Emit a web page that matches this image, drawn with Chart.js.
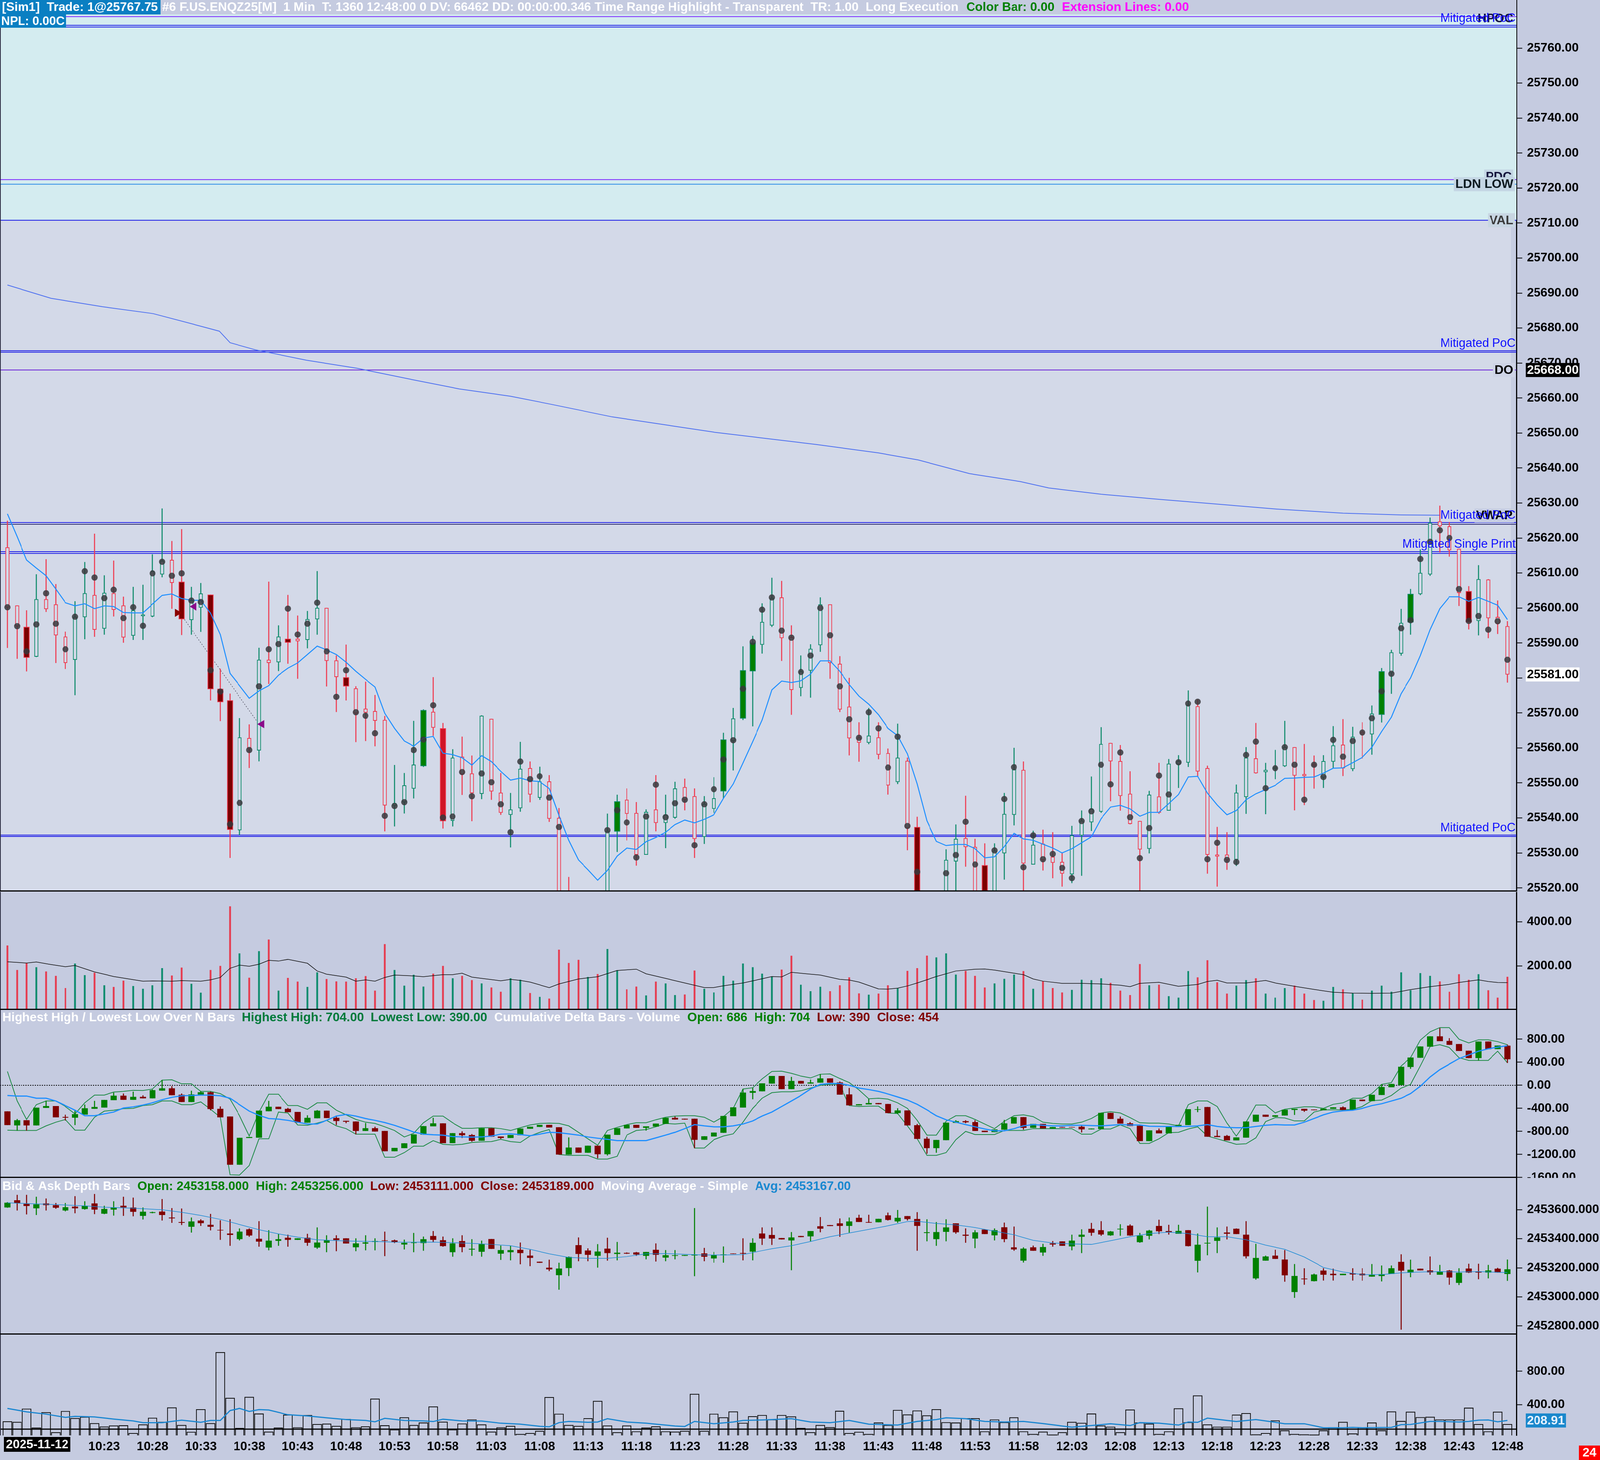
<!DOCTYPE html>
<html>
<head>
<meta charset="utf-8">
<title>F.US.ENQZ25 1 Min</title>
<script src="https://cdn.jsdelivr.net/npm/chart.js@4.4.1/dist/chart.umd.min.js"></script>
<style>
  html, body { margin: 0; padding: 0; background: #c5cbe0; }
  body { overflow: hidden; }
  #stage { position: absolute; left: 0; top: 0; width: 4133px; height: 3737px; transform-origin: 0 0; }
  #stage canvas { position: absolute; left: 0; }
</style>
</head>
<body>
<div id="stage">
<canvas id="mainChart" width="4133" height="2282" style="top:0;width:4133px;height:2282px"></canvas>
<canvas id="volChart" width="4133" height="302" style="top:2283px;width:4133px;height:302px"></canvas>
<canvas id="deltaChart" width="4133" height="430" style="top:2585px;width:4133px;height:430px"></canvas>
<canvas id="depthChart" width="4133" height="401" style="top:3015px;width:4133px;height:401px"></canvas>
<canvas id="bottomChart" width="4133" height="321" style="top:3416px;width:4133px;height:321px"></canvas>
</div>
<script>
// ---- price bars, 1 minute, 10:13 .. 12:48  [open, high, low, close]
const priceOHLC = [
  [25617.3,25624.9,25588.6,25600.2],[25600.7,25600.7,25585.5,25594.8],[25594.6,25599.3,25581.9,25585.8],[25586.1,25609.6,25586.0,25602.5],
  [25602.5,25613.9,25598.9,25599.7],[25601.0,25606.8,25584.3,25592.2],[25591.8,25593.2,25582.6,25584.3],[25585.2,25601.9,25575.1,25597.4],
  [25597.4,25613.1,25591.1,25604.2],[25603.7,25621.2,25591.8,25593.8],[25594.1,25609.3,25592.4,25604.3],[25604.2,25613.5,25597.6,25599.5],
  [25600.7,25603.2,25590.1,25591.6],[25592.1,25606.0,25590.9,25599.3],[25597.7,25606.6,25590.9,25598.1],[25597.6,25615.3,25597.4,25610.5],
  [25609.6,25628.4,25608.8,25613.5],[25613.7,25619.1,25599.8,25607.2],[25607.5,25622.5,25592.3,25596.8],[25596.6,25606.0,25592.4,25602.1],
  [25600.1,25607.1,25593.2,25604.1],[25603.8,25603.8,25573.6,25576.8],[25576.9,25582.6,25567.7,25573.1],[25573.6,25575.5,25528.6,25536.6],
  [25536.5,25568.5,25535.1,25563.0],[25562.8,25566.7,25554.3,25559.8],[25559.3,25588.6,25556.2,25585.2],[25585.2,25607.5,25578.3,25584.3],
  [25584.5,25595.0,25582.0,25591.8],[25591.2,25603.7,25584.1,25590.1],[25591.2,25597.8,25579.8,25590.5],[25590.9,25599.1,25588.5,25596.8],
  [25596.8,25610.5,25592.4,25600.0],[25600.0,25600.0,25577.6,25584.9],[25585.0,25586.4,25570.3,25580.3],[25580.2,25589.5,25573.6,25577.6],
  [25577.0,25577.6,25561.7,25569.9],[25571.2,25578.9,25562.0,25570.1],[25570.5,25575.1,25560.5,25567.8],[25568.0,25569.1,25536.2,25543.6],
  [25543.5,25555.1,25537.6,25544.2],[25544.5,25552.8,25541.3,25549.3],[25548.4,25567.7,25545.6,25555.2],[25554.8,25571.0,25554.6,25570.8],
  [25570.3,25580.2,25563.5,25565.8],[25565.6,25567.1,25537.0,25539.1],[25539.2,25559.6,25537.6,25557.2],[25557.5,25563.2,25546.6,25552.5],
  [25552.7,25557.8,25539.1,25547.1],[25546.9,25569.3,25545.4,25569.2],[25568.3,25568.3,25545.2,25547.6],[25547.2,25552.8,25540.9,25541.5],
  [25540.9,25547.1,25531.6,25542.4],[25542.8,25561.7,25541.8,25554.0],[25554.2,25556.1,25544.5,25546.7],[25545.8,25554.6,25545.2,25550.4],
  [25550.4,25552.2,25538.9,25539.8],[25540.0,25542.8,25508.0,25512.0],[25514.0,25523.1,25504.0,25509.0],[25510.0,25516.0,25502.0,25505.0],
  [25505.0,25515.0,25501.0,25512.0],[25512.0,25517.0,25503.0,25508.0],[25509.0,25541.2,25506.0,25536.2],[25536.1,25546.6,25530.3,25544.7],
  [25545.2,25548.4,25533.6,25541.2],[25541.4,25544.5,25526.4,25529.5],[25529.5,25542.4,25529.5,25541.7],[25542.4,25552.2,25536.2,25538.6],
  [25538.6,25546.6,25531.4,25540.9],[25540.1,25550.3,25539.8,25548.4],[25548.8,25551.2,25542.2,25545.2],[25546.2,25548.4,25528.6,25534.0],
  [25534.6,25546.2,25532.6,25544.0],[25542.6,25551.6,25541.5,25545.6],[25547.6,25564.3,25545.6,25562.4],[25562.0,25571.4,25553.6,25568.4],
  [25568.4,25589.0,25568.0,25582.2],[25581.9,25592.0,25566.2,25590.1],[25589.5,25601.3,25587.0,25596.0],[25595.0,25608.6,25594.6,25602.8],
  [25603.0,25607.7,25584.9,25591.4],[25591.6,25595.0,25569.5,25576.6],[25577.2,25586.4,25574.8,25581.9],[25582.1,25589.6,25574.4,25588.3],
  [25589.4,25603.0,25587.5,25601.0],[25601.0,25601.0,25579.8,25584.3],[25584.0,25586.2,25570.3,25571.0],[25571.8,25580.0,25557.9,25562.8],
  [25562.9,25567.3,25556.1,25561.5],[25561.5,25571.4,25561.1,25563.5],[25563.0,25567.3,25556.8,25558.1],[25558.5,25559.8,25546.7,25549.3],
  [25550.3,25566.9,25549.7,25557.2],[25556.3,25557.2,25530.8,25537.1],[25537.4,25540.3,25508.0,25512.0],[25512.0,25518.0,25500.0,25506.0],
  [25506.0,25516.0,25500.0,25513.0],[25514.0,25531.0,25510.0,25528.0],[25527.6,25538.1,25516.0,25534.0],[25534.2,25546.3,25526.1,25531.7],
  [25531.7,25534.0,25512.0,25516.0],[25526.5,25532.7,25510.0,25514.0],[25515.0,25532.7,25512.0,25530.6],[25529.9,25547.1,25522.4,25541.1],
  [25540.9,25560.0,25537.9,25553.8],[25553.7,25556.1,25516.0,25527.0],[25526.7,25536.3,25526.7,25532.3],[25532.6,25536.6,25525.0,25528.0],
  [25528.9,25535.9,25522.8,25527.2],[25527.4,25529.9,25520.4,25524.1],[25523.9,25537.7,25521.4,25535.0],[25535.0,25542.1,25523.5,25539.2],
  [25538.8,25551.8,25536.3,25542.6],[25541.8,25565.9,25541.5,25561.1],[25561.4,25561.4,25544.8,25556.2],[25556.2,25560.8,25542.1,25546.3],
  [25546.9,25553.3,25538.2,25538.3],[25539.1,25539.1,25516.0,25531.0],[25531.2,25547.7,25529.9,25546.6],[25546.1,25555.7,25541.2,25541.5],
  [25542.1,25556.8,25542.1,25555.5],[25555.3,25557.9,25548.6,25556.2],[25555.8,25576.4,25554.6,25572.3],[25571.9,25573.8,25551.9,25553.3],
  [25554.2,25554.9,25524.1,25529.5],[25529.5,25537.4,25520.4,25529.0],[25529.5,25535.9,25525.2,25528.0],[25528.1,25549.5,25526.3,25547.2],
  [25546.0,25560.2,25541.2,25557.2],[25557.0,25567.1,25552.7,25552.8],[25553.1,25555.7,25541.1,25553.7],[25554.0,25559.4,25551.1,25554.5],
  [25554.8,25567.7,25554.6,25560.2],[25560.2,25560.2,25542.2,25552.1],[25552.5,25561.1,25543.7,25552.0],[25555.4,25557.8,25548.4,25554.9],
  [25551.6,25557.9,25548.6,25556.2],[25556.1,25566.2,25554.2,25560.7],[25560.9,25568.2,25552.0,25554.2],[25554.0,25566.0,25553.4,25563.2],
  [25564.6,25567.3,25557.0,25563.9],[25563.9,25572.1,25558.1,25569.8],[25569.5,25582.8,25567.3,25581.9],[25581.5,25588.0,25575.5,25587.3],
  [25587.0,25599.7,25586.4,25595.7],[25595.9,25605.4,25592.4,25604.0],[25604.0,25616.7,25603.7,25610.0],[25609.6,25625.8,25609.2,25624.3],
  [25624.7,25629.2,25615.9,25623.4],[25623.3,25624.5,25614.7,25616.5],[25616.9,25616.9,25600.6,25604.3],[25604.8,25606.2,25593.9,25595.9],
  [25596.3,25612.2,25592.2,25608.2],[25608.1,25608.2,25591.4,25597.1],[25597.4,25602.1,25592.6,25595.5],[25594.8,25596.2,25578.7,25581.0]
];
// bars painted as solid (highlighted) bodies
const darkRedFillBars = [2, 18, 21, 22, 23, 29, 35, 94, 101, 151];
const brightRedFillBars = [45];
const greenFillBars = [43, 63, 74, 76, 77, 142, 145];

// short moving average drawn through the candles
const emaLine = [
  25626.9,25620.4,25613.7,25611.4,25609.2,25605.4,25601.5,25600.6,25601.2,25599.8,
  25600.6,25600.4,25598.7,25598.6,25598.6,25601.1,25603.6,25604.0,25602.7,25602.2,
  25602.2,25598.5,25592.4,25581.3,25577.8,25574.2,25576.3,25577.8,25580.8,25582.8,
  25584.3,25586.7,25589.1,25588.0,25586.7,25584.5,25581.9,25579.6,25577.4,25569.9,
  25565.6,25562.0,25560.5,25562.8,25563.3,25558.5,25558.1,25557.2,25555.1,25557.8,
  25556.1,25553.3,25550.8,25551.4,25550.6,25550.4,25548.4,25540.7,25533.6,25528.0,
  25525.2,25522.2,25525.0,25529.1,25531.4,25531.0,25533.2,25534.4,25535.9,25538.1,
  25539.4,25538.6,25539.6,25540.9,25545.6,25549.7,25555.7,25561.8,25568.0,25576.6,
  25579.1,25578.7,25579.2,25581.1,25584.9,25584.9,25581.9,25578.1,25574.8,25572.5,
  25569.5,25565.6,25563.5,25558.3,25549.7,25539.2,25533.3,25532.1,25532.4,25532.4,
  25531.2,25528.6,25528.9,25531.8,25535.6,25534.0,25533.6,25532.5,25531.4,25530.0,
  25531.2,25532.9,25534.6,25539.8,25543.1,25543.6,25542.6,25540.5,25541.6,25541.6,
  25544.1,25546.7,25551.7,25551.9,25547.1,25543.7,25540.9,25542.1,25545.2,25546.9,
  25548.1,25549.3,25551.3,25551.4,25551.6,25551.7,25552.8,25554.2,25554.3,25555.8,
  25557.3,25560.2,25564.7,25568.8,25575.5,25580.0,25586.4,25593.8,25599.8,25603.2,
  25603.2,25601.9,25603.0,25601.9,25600.8,25596.7
];
// point of control per bar (null = off screen)
const pocPrices = [
  25600.2,25594.8,25587.6,25595.3,25604.2,25595.5,25588.2,25597.5,25610.5,25608.7,
  25602.8,25605.2,25597.1,25600.2,25594.9,25609.9,25613.2,25609.2,25609.9,25602.1,
  25601.7,25582.2,25576.1,25538.2,25544.3,25559.4,25577.6,25588.2,25589.7,25599.8,
  25592.4,25595.5,25601.5,25587.6,25574.6,25582.2,25570.2,25569.2,25564.2,25540.6,
  25543.4,25544.5,25559.4,25562.4,25572.2,25540.1,25540.4,25553.1,25546.2,25552.7,
  25550.2,25543.9,25535.9,25556.1,25551.1,25551.9,25545.8,25537.4,null,null,
  null,null,25536.5,25542.2,25538.7,25528.7,25540.4,25549.5,25540.2,25544.2,
  25545.2,25532.2,25543.9,25548.2,25556.7,25562.2,25576.9,25590.3,25599.5,25603.0,
  25593.5,25591.5,25581.7,25586.4,25600.0,25592.2,25577.6,25568.2,25562.9,25570.2,
  25565.6,25554.4,25563.2,25537.7,25524.6,null,null,25524.2,25529.4,25538.9,
  25526.7,null,25530.7,25545.4,25554.5,25525.9,25535.0,25528.2,25529.7,25525.7,
  25522.8,25539.1,25541.9,25555.2,25549.6,25558.7,25540.2,25528.5,25537.1,25552.1,
  25546.7,25555.9,25572.7,25573.2,25528.2,25532.9,25528.0,25527.4,25558.0,25561.8,
  25548.5,25554.2,25560.2,25555.2,25545.2,25555.2,25551.7,25562.3,25557.5,25562.0,
  25564.4,25568.5,25576.2,25581.2,25594.2,25596.5,25614.0,25618.9,25622.2,25620.0,
  25605.4,25596.3,25597.7,25593.8,25596.2,25585.2
];
// session VWAP  [bar, price]
const vwapLine = [[0,25692.3],[4.5,25688.5],[9.8,25686.1],[15.1,25684.1],[20.3,25680.3],[21.9,25679.1],[23,25675.8],
  [25.6,25673.8],[30.9,25670.8],[36.1,25668.5],[41.4,25665.5],[46.7,25662.6],[52,25660.5],[56.2,25658.2],[62.5,25654.6],
  [73.1,25650.2],[83.6,25646.7],[90,25644.3],[94.1,25642.3],[99.4,25638.4],[104.7,25636.1],[107.6,25634.3],[113,25632.5],
  [119.2,25631.0],[124,25629.9],[131,25628.3],[138,25627.1],[144,25626.6],[148,25626.5]];
// execution markers [bar, price]
const tradeMarks = [[17.55,25598.6],[19.3,25600.4],[26.3,25566.8]];
const tradeLink = [[17.8,25598.6],[26.0,25566.8]];

// key levels
const zoneTop = 25769.6, zoneBottom = 25710.8;
const hpocLevel = 25769.0;
const mitPocTop = [25766.5, 25766.0];
const pdcLevel = 25722.4, ldnLowLevel = 25721.1;
const valLevel = 25710.8;
const mitPocMid = [25673.5, 25673.1];
const doLevel = 25668.0;
const mitPocVwap = [25624.4, 25623.9];
const singlePrint = [25616.1, 25615.6];
const mitPocLow = [25535.1, 25534.7];

const priceTicks = [25520,25530,25540,25550,25560,25570,25580,25590,25600,25610,25620,25630,25640,
  25650,25660,25670,25680,25690,25700,25710,25720,25730,25740,25750,25760];

// ---- volume
const volumes = [
  2920,1807,2117,1933,1740,1540,987,2100,1573,1682,
  1113,1038,1322,1079,954,1113,1891,1556,1916,1180,
  778,1807,1992,4694,2561,1456,2661,3188,870,1448,
  1280,1038,1699,1397,1289,1280,1431,1531,870,2979,
  1807,1096,1590,1054,1640,1992,1431,1540,1347,1197,
  1013,820,1431,1364,761,586,510,2728,2125,2268,
  1490,1623,2761,1791,929,1054,653,1280,1197,669,
  695,1782,954,787,1540,1322,2100,1933,1640,1515,
  1824,2452,1138,845,1046,845,1113,1473,745,686,
  736,1113,971,1766,1891,2460,2377,2561,1598,1766,
  1540,1013,1197,1406,1598,1757,954,1289,987,787,
  904,1364,1347,1431,1222,870,669,2075,1113,1138,
  619,552,1757,1473,2251,1247,736,1096,1347,1431,
  736,552,987,1096,736,444,410,1038,929,753,
  460,870,1096,820,1699,887,1665,1540,1289,820,
  1615,1364,1615,887,552,1498
];
const volumeMA = [[0,2184],[2,2125],[3,2176],[4.3,2075],[6,1958],[7,2017],[9,1724],[11,1515],[13,1372],[14,1305],[15,1314],
  [17,1305],[18,1331],[20,1305],[21,1364],[22,1473],[23,1891],[24,2033],[25,1983],[26,2075],[27,2251],[28,2218],[29,2293],
  [31,2117],[32,1766],[33,1623],[35,1490],[36,1305],[37,1364],[38,1305],[39,1473],[40,1582],[42,1540],[43,1506],[44,1556],
  [45,1598],[46,1598],[47,1665],[48,1490],[49,1431],[51,1322],[52,1389],[53,1339],[54,1264],[56,1013],[57,1180],[59,1406],
  [61,1506],[63,1791],[65,1849],[66,1640],[68,1431],[70,1222],[72,1013],[73,1013],[74,1096],[76,1222],[78,1414],[79,1515],
  [80,1498],[81,1707],[83,1623],[84,1582],[86,1389],[87,1356],[88,1264],[90,954],[91,946],[92,987],[93,1088],[94,1222],
  [96,1515],[98,1766],[100,1849],[101,1858],[102,1807],[104,1665],[105,1598],[106,1406],[107,1305],[109,1205],[111,1205],
  [113,1180],[115,1121],[116,1054],[117,1205],[119,1255],[121,1071],[123,1155],[124,1289],[125,1347],[126,1222],[128,1222],
  [130,1339],[131,1222],[133,1071],[135,929],[137,803],[139,761],[141,753],[143,761],[145,920],[147,1054],[149,1163],
  [150,1247],[152,1364],[153,1289],[154,1247],[155,1238]];
const volTicks = [2000, 4000];

// ---- cumulative delta bars [open, high, low, close]
const deltaOHLC = [
  [-454,-454,-688,-688],[-694,-586,-784,-608],[-608,-608,-784,-694],[-694,-390,-694,-390],[-390,-272,-390,-362],
  [-362,-362,-554,-554],[-550,-512,-608,-560],[-560,-432,-688,-502],[-506,-336,-506,-400],[-406,-272,-406,-378],
  [-384,-256,-384,-256],[-256,-128,-256,-182],[-182,-144,-250,-250],[-250,-112,-250,-202],[-202,-176,-224,-224],
  [-224,-74,-224,-86],[-90,90,-90,-54],[-54,-16,-170,-170],[-166,-144,-288,-288],[-288,-96,-288,-160],
  [-160,-106,-160,-122],[-122,-112,-432,-410],[-410,-368,-554,-554],[-544,-544,-1376,-1376],[-1376,-912,-1376,-912],
  [-912,-899,-912,-899],[-906,-442,-906,-442],[-448,-272,-448,-374],[-374,-374,-410,-410],[-410,-394,-464,-464],
  [-464,-464,-646,-646],[-646,-522,-646,-566],[-570,-432,-570,-442],[-442,-442,-566,-566],[-566,-528,-688,-618],
  [-618,-618,-656,-630],[-630,-630,-848,-790],[-790,-656,-790,-746],[-746,-720,-800,-800],[-794,-794,-1142,-1142],
  [-1142,-1088,-1142,-1088],[-1088,-1008,-1088,-1008],[-1008,-854,-1008,-854],[-854,-710,-854,-710],[-710,-566,-710,-662],
  [-662,-662,-1002,-1002],[-1002,-832,-1002,-832],[-832,-800,-912,-864],[-864,-848,-976,-960],[-960,-746,-960,-746],
  [-746,-746,-890,-890],[-890,-890,-928,-912],[-912,-864,-912,-864],[-864,-752,-864,-752],[-752,-720,-752,-720],
  [-720,-688,-720,-688],[-688,-688,-730,-730],[-730,-730,-1200,-1200],[-1200,-906,-1200,-1082],[-1082,-1082,-1168,-1168],
  [-1168,-1050,-1168,-1050],[-1050,-1050,-1264,-1194],[-1194,-858,-1216,-858],[-858,-746,-858,-746],[-746,-688,-746,-688],
  [-688,-688,-736,-736],[-736,-714,-784,-714],[-714,-666,-714,-666],[-666,-566,-666,-566],[-566,-544,-592,-592],
  [-582,-582,-592,-592],[-582,-582,-1088,-944],[-944,-886,-944,-886],[-886,-822,-886,-822],[-822,-534,-822,-534],
  [-534,-384,-534,-384],[-384,-64,-384,-128],[-128,-48,-240,-102],[-102,32,-102,32],[32,160,32,160],
  [160,160,-64,-64],[-64,144,-64,74],[74,74,32,32],[32,96,32,48],[48,192,48,118],
  [118,118,48,48],[48,64,-160,-160],[-160,-48,-346,-346],[-346,-330,-346,-330],[-330,-240,-330,-310],
  [-310,-310,-326,-326],[-326,-326,-480,-480],[-480,-400,-496,-438],[-438,-438,-694,-694],[-694,-672,-928,-928],
  [-928,-896,-1184,-1088],[-1088,-950,-1168,-950],[-950,-650,-950,-650],[-650,-608,-650,-624],[-624,-608,-656,-640],
  [-640,-608,-790,-790],[-790,-790,-810,-810],[-810,-768,-810,-768],[-768,-602,-768,-662],[-662,-554,-662,-554],
  [-554,-554,-768,-736],[-736,-672,-736,-672],[-672,-672,-746,-746],[-746,-726,-746,-726],[-726,-726,-733,-733],
  [-726,-726,-730,-730],[-720,-688,-816,-762],[-762,-752,-762,-752],[-758,-480,-758,-480],[-480,-480,-582,-582],
  [-582,-544,-662,-662],[-662,-640,-704,-704],[-704,-704,-966,-966],[-966,-784,-966,-784],[-784,-752,-832,-832],
  [-832,-720,-832,-720],[-720,-688,-720,-688],[-688,-416,-688,-416],[-422,-368,-464,-416],[-378,-378,-890,-890],
  [-880,-778,-896,-896],[-880,-864,-954,-954],[-954,-906,-954,-906],[-906,-630,-906,-630],[-630,-512,-630,-512],
  [-512,-512,-544,-544],[-544,-522,-544,-522],[-522,-426,-522,-426],[-426,-410,-512,-410],[-410,-410,-458,-438],
  [-422,-422,-429,-429],[-432,-406,-432,-406],[-406,-384,-406,-384],[-384,-368,-426,-426],[-426,-250,-426,-250],
  [-250,-250,-272,-272],[-272,-166,-272,-166],[-166,16,-166,-32],[-32,22,-32,22],[6,320,6,320],
  [320,480,288,480],[480,672,480,672],[672,848,672,848],[848,992,768,768],[768,816,704,704],
  [714,714,598,598],[598,598,474,474],[474,758,432,758],[758,758,630,630],[630,688,630,688],
  [686,704,390,454]
];
const deltaHighest = [
  240,-272,-592,-336,-272,-272,-368,-496,-304,-170,-170,-118,-106,-86,-90,-64,90,96,26,26,
  -106,-106,-144,-240,-528,-880,-464,-154,-154,-352,-352,-416,-304,-304,-432,-512,-592,-640,-662,-720,
  -784,-896,-832,-650,-534,-534,-650,-746,-746,-736,-736,-752,-784,-736,-688,-662,-656,-662,-704,-816,
  -928,-1040,-784,-730,-682,-650,-650,-598,-554,-534,-528,-528,-554,-640,-544,-400,-64,-42,112,240,
  246,208,160,128,192,198,118,48,-80,-234,-224,-240,-304,-400,-608,-864,-864,-624,-528,-528,
  -592,-672,-752,-624,-528,-512,-544,-640,-662,-672,-672,-640,-576,-480,-458,-480,-560,-650,-656,-656,
  -672,-704,-336,-272,-272,-368,-656,-880,-640,-342,-342,-480,-416,-394,-374,-374,-400,-330,-304,-224,
  -224,-144,16,48,336,480,784,928,1002,1002,800,736,790,790,758,704
];
const deltaLowest = [
  -778,-784,-784,-784,-704,-640,-592,-778,-778,-554,-448,-432,-406,-400,-352,-336,-272,-272,-336,-336,
  -288,-416,-554,-1552,-1558,-1392,-928,-928,-464,-480,-688,-694,-656,-608,-704,-752,-848,-848,-848,-1248,
  -1248,-1168,-1056,-1056,-960,-1024,-1034,-1024,-992,-982,-976,-938,-976,-992,-880,-816,-768,-1200,-1216,-1216,
  -1216,-1280,-1280,-1232,-864,-784,-768,-720,-662,-672,-656,-1088,-1088,-944,-880,-842,-640,-400,-224,-128,
  -112,-112,-96,-48,0,16,16,-352,-368,-362,-362,-480,-490,-704,-928,-1216,-1216,-1168,-944,-800,
  -854,-854,-854,-784,-784,-784,-752,-752,-752,-752,-752,-848,-848,-758,-758,-688,-752,-1008,-1008,-928,
  -822,-816,-758,-720,-880,-928,-976,-1024,-1014,-912,-630,-560,-566,-618,-618,-464,-426,-426,-426,-416,
  -368,-266,-256,-176,-48,16,336,672,704,656,480,432,432,432,592,390
];
const deltaMA = [
  -176,-186,-186,-224,-224,-272,-352,-432,-528,-528,-496,-464,-394,-374,-342,-304,-250,-208,-182,-176,
  -170,-170,-182,-224,-336,-448,-522,-576,-586,-608,-640,-672,-672,-608,-534,-506,-534,-576,-608,-646,
  -694,-752,-810,-848,-858,-864,-890,-896,-899,-896,-880,-848,-842,-854,-874,-848,-816,-822,-842,-864,
  -896,-918,-938,-960,-960,-960,-960,-912,-864,-816,-752,-682,-704,-720,-720,-704,-672,-618,-534,-464,
  -368,-272,-176,-64,16,32,32,0,-48,-74,-106,-150,-202,-256,-330,-426,-528,-598,-640,-682,
  -720,-758,-790,-790,-752,-704,-682,-694,-704,-704,-694,-694,-698,-704,-694,-682,-688,-688,-710,-714,
  -714,-714,-714,-704,-682,-714,-730,-736,-736,-714,-694,-682,-688,-688,-640,-576,-512,-464,-442,-432,
  -400,-352,-320,-272,-224,-144,-16,144,272,368,464,528,592,634,662,688
];
const deltaTicks = [800, 400, 0, -400, -800, -1200, -1600];

// ---- bid & ask depth bars [open, high, low, close]
const depthOHLC = [
  [2453616,2453651,2453614,2453647],[2453664,2453701,2453595,2453645],[2453639,2453701,2453568,2453626],[2453610,2453688,2453564,2453636],
  [2453642,2453676,2453595,2453632],[2453630,2453645,2453607,2453614],[2453595,2453645,2453589,2453616],[2453620,2453692,2453576,2453610],
  [2453605,2453657,2453601,2453626],[2453642,2453707,2453570,2453601],[2453573,2453626,2453570,2453604],[2453601,2453657,2453560,2453614],
  [2453626,2453688,2453558,2453616],[2453614,2453682,2453555,2453586],[2453558,2453614,2453533,2453585],[2453578,2453585,2453576,2453582],
  [2453586,2453672,2453526,2453564],[2453545,2453610,2453510,2453541],[2453514,2453607,2453495,2453510],[2453483,2453545,2453443,2453518],
  [2453524,2453533,2453489,2453508],[2453495,2453570,2453458,2453483],[2453460,2453526,2453393,2453458],[2453435,2453533,2453352,2453427],
  [2453398,2453470,2453389,2453448],[2453464,2453470,2453414,2453423],[2453399,2453520,2453346,2453381],[2453340,2453458,2453321,2453386],
  [2453386,2453433,2453352,2453396],[2453406,2453427,2453346,2453393],[2453393,2453402,2453393,2453402],[2453406,2453433,2453352,2453373],
  [2453340,2453477,2453331,2453373],[2453373,2453423,2453308,2453389],[2453402,2453423,2453315,2453392],[2453402,2453402,2453368,2453368],
  [2453342,2453402,2453315,2453367],[2453367,2453423,2453321,2453374],[2453379,2453402,2453321,2453383],[2453388,2453448,2453281,2453386],
  [2453388,2453393,2453371,2453376],[2453361,2453393,2453327,2453371],[2453371,2453439,2453308,2453373],[2453371,2453414,2453318,2453396],
  [2453418,2453452,2453377,2453393],[2453389,2453414,2453346,2453350],[2453308,2453402,2453277,2453367],[2453383,2453423,2453308,2453343],
  [2453326,2453396,2453283,2453330],[2453311,2453386,2453277,2453362],[2453397,2453397,2453331,2453331],[2453298,2453352,2453255,2453321],
  [2453308,2453352,2453252,2453321],[2453323,2453373,2453225,2453302],[2453283,2453323,2453212,2453269],[2453241,2453241,2453235,2453235],
  [2453200,2453255,2453178,2453190],[2453150,2453234,2453050,2453194],[2453199,2453277,2453144,2453274],[2453355,2453408,2453246,2453296],
  [2453318,2453333,2453246,2453290],[2453283,2453362,2453202,2453311],[2453331,2453406,2453250,2453302],[2453296,2453377,2453252,2453303],
  [2453302,2453306,2453296,2453298],[2453305,2453308,2453283,2453292],[2453283,2453308,2453259,2453308],[2453323,2453367,2453244,2453290],
  [2453271,2453321,2453246,2453286],[2453283,2453321,2453259,2453286],[2453283,2453287,2453283,2453287],[2453286,2453610,2453143,2453290],
  [2453298,2453336,2453246,2453277],[2453265,2453308,2453236,2453287],[2453287,2453346,2453236,2453291],[2453298,2453298,2453296,2453296],
  [2453301,2453402,2453252,2453298],[2453312,2453402,2453252,2453371],[2453435,2453477,2453358,2453402],[2453425,2453477,2453358,2453402],
  [2453404,2453404,2453396,2453396],[2453389,2453445,2453184,2453408],[2453418,2453418,2453412,2453412],[2453417,2453452,2453383,2453452],
  [2453485,2453548,2453445,2453470],[2453493,2453493,2453488,2453488],[2453505,2453539,2453414,2453489],[2453489,2453545,2453443,2453518],
  [2453543,2453564,2453516,2453516],[2453514,2453564,2453511,2453511],[2453514,2453536,2453514,2453536],[2453560,2453579,2453526,2453530],
  [2453520,2453597,2453510,2453543],[2453555,2453555,2453526,2453536],[2453535,2453582,2453318,2453489],[2453440,2453533,2453383,2453444],
  [2453398,2453514,2453352,2453445],[2453448,2453533,2453383,2453477],[2453505,2453505,2453435,2453445],[2453427,2453470,2453373,2453421],
  [2453402,2453458,2453336,2453443],[2453462,2453462,2453433,2453433],[2453424,2453470,2453389,2453458],[2453478,2453510,2453377,2453398],
  [2453340,2453483,2453318,2453327],[2453250,2453340,2453237,2453331],[2453340,2453352,2453318,2453318],[2453306,2453364,2453283,2453342],
  [2453367,2453383,2453346,2453361],[2453381,2453381,2453352,2453352],[2453348,2453427,2453321,2453386],[2453414,2453464,2453302,2453427],
  [2453467,2453508,2453421,2453442],[2453458,2453520,2453421,2453430],[2453424,2453452,2453421,2453449],[2453465,2453499,2453421,2453468],
  [2453489,2453498,2453421,2453423],[2453377,2453439,2453373,2453421],[2453421,2453460,2453396,2453455],[2453487,2453530,2453433,2453452],
  [2453452,2453495,2453429,2453445],[2453435,2453495,2453435,2453453],[2453458,2453458,2453348,2453350],[2453249,2453435,2453169,2453358],
  [2453368,2453620,2453287,2453371],[2453386,2453477,2453302,2453408],[2453442,2453483,2453396,2453435],[2453468,2453470,2453433,2453433],
  [2453427,2453520,2453265,2453280],[2453128,2453364,2453119,2453267],[2453250,2453283,2453250,2453277],[2453283,2453323,2453262,2453262],
  [2453256,2453321,2453105,2453149],[2453034,2453225,2452994,2453143],[2453125,2453196,2453084,2453122],[2453109,2453159,2453107,2453153],
  [2453180,2453196,2453113,2453153],[2453158,2453193,2453113,2453150],[2453150,2453158,2453150,2453158],[2453161,2453196,2453113,2453155],
  [2453159,2453196,2453112,2453149],[2453140,2453225,2453140,2453150],[2453144,2453215,2453107,2453155],[2453159,2453215,2453159,2453196],
  [2453240,2453292,2452775,2453181],[2453168,2453255,2453136,2453186],[2453193,2453193,2453183,2453183],[2453181,2453277,2453153,2453169],
  [2453153,2453219,2453153,2453174],[2453180,2453184,2453084,2453134],[2453097,2453196,2453082,2453165],[2453194,2453227,2453165,2453168],
  [2453174,2453227,2453122,2453168],[2453168,2453219,2453128,2453181],[2453193,2453199,2453168,2453168],[2453158,2453256,2453111,2453189]
];
const depthMA = [[0,2453647],[2,2453642],[5,2453635],[8,2453626],[10,2453617],[13,2453610],[16,2453599],[18,2453582],
  [20,2453560],[22,2453533],[24,2453498],[26,2453462],[28,2453433],[30,2453411],[32,2453393],[34,2453387],[36,2453383],
  [38,2453381],[40,2453377],[42,2453376],[44,2453377],[46,2453373],[48,2453368],[50,2453361],[52,2453352],[54,2453327],
  [56,2453296],[58,2453271],[60,2453265],[62,2453265],[64,2453277],[66,2453296],[68,2453298],[70,2453293],[72,2453288],
  [74,2453288],[76,2453291],[78,2453318],[79,2453331],[81,2453352],[83,2453381],[85,2453414],[87,2453439],[89,2453464],
  [91,2453489],[93,2453518],[94,2453520],[96,2453505],[98,2453495],[100,2453477],[102,2453452],[104,2453427],[106,2453389],
  [108,2453371],[110,2453364],[112,2453361],[114,2453386],[116,2453414],[118,2453435],[120,2453445],[122,2453435],
  [124,2453414],[126,2453414],[128,2453393],[130,2453356],[132,2453327],[134,2453274],[136,2453202],[138,2453171],
  [140,2453153],[142,2453153],[144,2453165],[146,2453171],[148,2453174],[150,2453171],[152,2453174],[154,2453169],[155,2453167]];
const depthTicks = [2453600, 2453400, 2453200, 2453000, 2452800];

// ---- bottom study
const bottomVals = [
  198,191,350,122,307,67,322,237,252,176,135,148,150,57,161,241,191,365,154,72,
  343,176,1028,480,117,491,291,74,122,278,126,274,165,170,143,226,126,137,470,150,
  100,246,154,183,376,193,100,172,220,161,74,126,143,46,57,83,489,289,154,143,
  235,443,148,67,148,78,122,137,78,74,83,528,83,289,246,317,180,259,274,220,
  274,257,117,67,154,128,324,57,72,46,183,154,335,280,328,270,343,187,183,235,
  235,78,220,187,246,78,46,74,39,67,191,180,291,148,133,67,339,183,170,46,
  78,354,187,509,161,133,133,278,296,41,57,209,89,46,41,39,89,128,191,52,
  126,183,89,317,202,313,248,252,220,220,220,361,165,78,313,165
];
const bottomMA = [[0,354],[2,313],[4,285],[6,246],[7,259],[9,252],[11,226],[13,204],[14,183],[16,183],[18,213],[20,187],
  [21,209],[22,209],[23,328],[24,354],[25,317],[26,339],[27,335],[29,278],[31,263],[33,241],[35,220],[37,209],[38,193],
  [39,235],[41,209],[43,204],[44,196],[45,224],[47,204],[49,202],[51,176],[53,165],[55,139],[56,133],[57,183],[58,198],
  [60,187],[61,191],[62,230],[64,191],[66,176],[67,165],[69,143],[70,137],[71,198],[73,170],[75,191],[76,209],[78,215],
  [79,220],[81,230],[83,191],[85,183],[87,209],[89,165],[90,161],[92,154],[94,198],[96,220],[97,241],[99,230],[101,198],
  [103,191],[105,198],[107,172],[109,143],[110,128],[112,148],[114,170],[116,148],[117,183],[119,176],[121,154],[122,191],
  [123,187],[124,237],[126,209],[127,196],[129,220],[131,187],[132,170],[134,170],[136,122],[138,122],[139,126],[140,122],
  [143,126],[144,159],[145,161],[147,198],[148,198],[150,191],[151,198],[152,213],[153,215],[154,193],[155,208.91]];
const bottomBase = 105;
const bottomTicks = [400, 800];

// ---- time axis
const timeTickBars = [10,15,20,25,30,35,40,45,50,55,60,65,70,75,80,85,90,95,100,105,110,115,120,125,130,135,140,145,150,155];
const timeTickLabels = ['10:23','10:28','10:33','10:38','10:43','10:48','10:53','10:58','11:03','11:08','11:13','11:18',
  '11:23','11:28','11:33','11:38','11:43','11:48','11:53','11:58','12:03','12:08','12:13','12:18','12:23','12:28',
  '12:33','12:38','12:43','12:48'];
const sessionDate = '2025-11-12';

// ================= drawing =================
// the page is laid out at 4133x3737 and fitted to whatever viewport the browser really gives
const PAGE_W = 4133, PAGE_H = 3737;
const fitX = Math.min(1, document.documentElement.clientWidth / PAGE_W);
const fitY = Math.min(1, document.documentElement.clientHeight / PAGE_H);
document.getElementById('stage').style.transform = 'scale(' + fitX + ',' + fitY + ')';
document.body.style.height = Math.floor(PAGE_H * fitY) + 'px';

const X_MIN = -0.76, X_MAX = 155.92;
const AXIS_W = 216;
const PAGE_BG = '#c5cbe0', MAIN_BG = '#d3d9e8';
const UP = '#0c8a69', DOWN = '#f0384d';
const FONT = '"Liberation Sans", Arial, sans-serif';
const HEAD_FONT = 'bold 32px ' + FONT;
Chart.defaults.font.family = FONT;

const isUp = b => b[3] >= b[0];
const pts = arr => arr.map(p => ({ x: p[0], y: p[1] }));
const idxPts = arr => arr.map((v, i) => ({ x: i, y: v }));

function lineSet(data, color, width, order, extra) {
  return Object.assign({ type: 'line', data, borderColor: color, borderWidth: width, pointRadius: 0,
    fill: false, tension: 0, order }, extra || {});
}
function hLine(v, color, width, order, extra) {
  return lineSet(pts([[X_MIN, v], [X_MAX, v]]), color, width, order, extra);
}
function wickSet(ohlc, width, upC, downC, order) {
  return { type: 'bar', grouped: false, order, barThickness: width, borderWidth: 0,
    data: ohlc.map((b, i) => ({ x: i, y: [b[2], b[1]] })),
    backgroundColor: ohlc.map(b => isUp(b) ? upC : downC) };
}
function bodySet(ohlc, idx, width, fill, border, bw, order) {
  return { type: 'bar', grouped: false, order, barThickness: width, borderSkipped: false, borderWidth: bw,
    data: idx.map(i => ({ x: i, y: [ohlc[i][0], ohlc[i][3]] })),
    backgroundColor: idx.map(i => fill(ohlc[i])), borderColor: idx.map(i => border(ohlc[i])) };
}
function yAxis(min, max, ticks, fmt) {
  return {
    position: 'right', min, max,
    afterBuildTicks: s => { s.ticks = ticks.map(v => ({ value: v })); },
    afterFit: s => { s.width = AXIS_W; s.paddingTop = 0; s.paddingBottom = 0; },
    ticks: { callback: fmt, color: '#000', font: { size: 32, weight: 'bold' }, padding: 12, autoSkip: false },
    grid: { drawOnChartArea: false, tickLength: 15, tickColor: '#000', tickWidth: 2 },
    border: { display: true, color: '#000', width: 3 }
  };
}
const hiddenX = { type: 'linear', min: X_MIN, max: X_MAX, display: false, offset: false };

const paneFrame = {
  id: 'paneFrame',
  beforeDraw(chart, args, o) {
    const { ctx, chartArea: a, width, height } = chart;
    ctx.save();
    ctx.fillStyle = PAGE_BG; ctx.fillRect(0, 0, width, height);
    ctx.fillStyle = o.plotBg || PAGE_BG; ctx.fillRect(a.left, a.top, a.right - a.left, a.bottom - a.top);
    ctx.restore();
  },
  afterDraw(chart, args, o) {
    const { ctx, chartArea: a } = chart;
    ctx.save();
    ctx.fillStyle = '#2a2a40'; ctx.fillRect(0, a.top, 2, a.bottom - a.top);
    if (o.bottomLine) { ctx.fillStyle = '#000'; ctx.fillRect(a.left, a.bottom - 3, a.right - a.left, 3); }
    ctx.restore();
  }
};

function textRuns(ctx, items, x, y, font, gap) {
  ctx.font = font; ctx.textAlign = 'left'; ctx.textBaseline = 'middle';
  for (const [t, c] of items) { ctx.fillStyle = c; ctx.fillText(t, x, y); x += ctx.measureText(t).width + gap; }
}
function tag(ctx, text, yPx, right, color, font, box) {
  ctx.font = font; ctx.textAlign = 'right'; ctx.textBaseline = 'middle';
  const w = ctx.measureText(text).width;
  if (box) { ctx.fillStyle = box; ctx.fillRect(right - w - 4, yPx - 18, w + 8, 36); }
  ctx.fillStyle = color; ctx.fillText(text, right, yPx + 1);
}
function axisBox(ctx, text, yPx, bg, fg) {
  ctx.font = 'bold 32px ' + FONT; ctx.textAlign = 'left'; ctx.textBaseline = 'middle';
  const w = ctx.measureText(text).width;
  ctx.fillStyle = bg; ctx.fillRect(3941, yPx - 18, w + 6, 36);
  ctx.fillStyle = fg; ctx.fillText(text, 3944, yPx + 1);
}
const base = (plugins) => ({
  responsive: false, animation: false, devicePixelRatio: 1, events: [],
  layout: { padding: 0, autoPadding: false },
  plugins: Object.assign({ legend: { display: false }, tooltip: { enabled: false } }, plugins)
});

// ---------- main price pane
const filled = new Set([...darkRedFillBars, ...brightRedFillBars, ...greenFillBars]);
const hollowBars = priceOHLC.map((b, i) => i).filter(i => !filled.has(i));
const lastClose = priceOHLC[priceOHLC.length - 1][3];

const mainDecor = {
  id: 'mainDecor',
  beforeDatasetsDraw(chart) {
    // darker strip along the right edge of the price pane
    const { ctx, chartArea: a, scales: { y } } = chart;
    ctx.save();
    ctx.fillStyle = 'rgba(120,135,185,0.14)';
    ctx.fillRect(a.right - 14, a.top, 14, a.bottom - a.top);
    ctx.fillStyle = 'rgba(110,150,190,0.10)';
    const zt = y.getPixelForValue(zoneTop), zb = y.getPixelForValue(zoneBottom);
    ctx.fillRect(a.right - 26, zt, 12, zb - zt);
    ctx.restore();
  },
  afterDraw(chart) {
    const { ctx, chartArea: a, scales: { y } } = chart;
    const py = v => y.getPixelForValue(v);
    const R = a.right - 2;
    ctx.save();
    ctx.fillStyle = PAGE_BG; ctx.fillRect(0, 0, a.right, 37);
    ctx.font = HEAD_FONT;
    const t1 = '[Sim1]  Trade: 1@25767.75';
    const w1 = ctx.measureText(t1).width + 12;
    ctx.fillStyle = '#0a7fc2'; ctx.fillRect(0, 0, w1, 37);
    ctx.fillRect(0, 37, 171, 34);
    textRuns(ctx, [[t1, '#fff']], 5, 19, HEAD_FONT, 0);
    textRuns(ctx, [['NPL: 0.00C', '#fff']], 3, 55, 'bold 31px ' + FONT, 0);
    textRuns(ctx, [
      ['#6 F.US.ENQZ25[M]  1 Min  T: 1360 12:48:00 0 DV: 66462 DD: 00:00:00.346 Time Range Highlight - Transparent  TR: 1.00  Long Execution', '#ffffff'],
      ['Color Bar: 0.00', '#008000'],
      ['Extension Lines: 0.00', '#ff00ff']
    ], w1 + 4, 19, HEAD_FONT, 20);

    const reg = '31px ' + FONT, bold = 'bold 32px ' + FONT;
    tag(ctx, 'HPOC', py(mitPocTop[0]) - 18, R - 6, '#14143c', bold);
    tag(ctx, 'Mitigated PoC', py(mitPocTop[0]) - 18, R, '#1010ff', reg);
    tag(ctx, 'PDC', py(pdcLevel) - 8, R - 10, '#14143c', bold, '#c4d6e4');
    tag(ctx, 'LDN LOW', py(ldnLowLevel), R - 6, '#0c1a20', bold, '#c4d6e4');
    tag(ctx, 'VAL', py(valLevel), R - 6, '#3a3a3a', bold, '#c8d6e2');
    tag(ctx, 'Mitigated PoC', py(mitPocMid[0]) - 19, R, '#1010ff', reg);
    tag(ctx, 'DO', py(doLevel), R - 6, '#000', bold, '#ced4e6');
    tag(ctx, 'VWAP', py(mitPocVwap[0]) - 18, R - 8, '#000', bold, '#c6cde2');
    tag(ctx, 'Mitigated PoC', py(mitPocVwap[0]) - 19, R, '#1010ff', reg);
    tag(ctx, 'Mitigated Single Print', py(singlePrint[0]) - 19, R, '#1010ff', reg);
    tag(ctx, 'Mitigated PoC', py(mitPocLow[0]) - 19, R, '#1010ff', reg);

    axisBox(ctx, lastClose.toFixed(2), py(lastClose), '#ffffff', '#000');
    axisBox(ctx, doLevel.toFixed(2), py(doLevel), '#000', '#fff');
    ctx.restore();
  }
};

new Chart(document.getElementById('mainChart'), {
  type: 'bar',
  data: { datasets: [
    lineSet(pts([[X_MIN, zoneTop], [X_MAX, zoneTop]]), 'rgba(0,0,0,0)', 0, 100,
      { fill: { value: zoneBottom }, backgroundColor: '#d4ecf0' }),
    hLine(hpocLevel, '#7a20ff', 2, 95),
    hLine(mitPocTop[0], '#1414e6', 2, 95), hLine(mitPocTop[1], '#1414e6', 2, 95),
    hLine(pdcLevel, '#7a20ff', 2, 95), hLine(ldnLowLevel, '#2a8ae6', 2, 95),
    hLine(valLevel, '#1414e6', 2, 95),
    hLine(mitPocMid[0], '#1414e6', 2, 95), hLine(mitPocMid[1], '#1414e6', 2, 95),
    hLine(doLevel, '#6a20d8', 2, 95),
    hLine(mitPocVwap[0], '#1414e6', 2, 95), hLine(mitPocVwap[1], '#2e2e70', 2, 95),
    hLine(singlePrint[0], '#1414e6', 2, 95), hLine(singlePrint[1], '#1414e6', 2, 95),
    hLine(mitPocLow[0], '#1414e6', 2, 95), hLine(mitPocLow[1], '#1414e6', 2, 95),
    lineSet(pts(vwapLine), '#4c6ff0', 2, 85),
    lineSet(pts(tradeLink), '#555566', 1.5, 80, { borderDash: [3, 4] }),
    wickSet(priceOHLC, 2, UP, DOWN, 70),
    bodySet(priceOHLC, hollowBars, 10, () => MAIN_BG, b => isUp(b) ? UP : DOWN, 2, 65),
    bodySet(priceOHLC, darkRedFillBars, 15, () => '#7c0000', () => DOWN, 2, 64),
    bodySet(priceOHLC, brightRedFillBars, 15, () => '#d01426', () => DOWN, 2, 64),
    bodySet(priceOHLC, greenFillBars, 15, () => '#008000', () => UP, 2, 64),
    lineSet(idxPts(emaLine), '#1e8fff', 2.5, 50),
    lineSet(idxPts(pocPrices), 'rgba(0,0,0,0)', 0, 40,
      { showLine: false, pointRadius: 8, pointBackgroundColor: 'rgba(55,55,60,0.85)', pointBorderWidth: 0 }),
    lineSet(pts(tradeMarks), 'rgba(0,0,0,0)', 0, 30,
      { showLine: false, pointStyle: 'triangle', pointRadius: 12, pointRotation: [90, -90, -90],
        pointBackgroundColor: ['#8a0000', '#8a0a8a', '#8a0a8a'], pointBorderWidth: 0 })
  ] },
  options: Object.assign(base({ paneFrame: { plotBg: MAIN_BG, bottomLine: true } }), {
    scales: { x: hiddenX, y: yAxis(25518.96, 25773.74, priceTicks, v => v.toFixed(2)) }
  }),
  plugins: [paneFrame, mainDecor]
});

// ---------- volume pane
new Chart(document.getElementById('volChart'), {
  type: 'bar',
  data: { datasets: [
    lineSet(pts(volumeMA), '#111', 1.5, 10),
    { type: 'bar', grouped: false, order: 20, barThickness: 4, borderWidth: 0,
      data: idxPts(volumes), backgroundColor: priceOHLC.map(b => isUp(b) ? '#0e8c6e' : '#e63c50') }
  ] },
  options: Object.assign(base({ paneFrame: { bottomLine: true } }), {
    scales: { x: hiddenX, y: yAxis(0, 5353, volTicks, v => v.toFixed(2)) }
  }),
  plugins: [paneFrame]
});

// ---------- cumulative delta pane
const lastDelta = deltaOHLC[deltaOHLC.length - 1];
const deltaDecor = {
  id: 'deltaDecor',
  afterDraw(chart) {
    const ctx = chart.ctx;
    ctx.save();
    textRuns(ctx, [
      ['Highest High / Lowest Low Over N Bars', '#fff'],
      ['Highest High: ' + deltaHighest[deltaHighest.length - 1].toFixed(2), '#007a3a'],
      ['Lowest Low: ' + deltaLowest[deltaLowest.length - 1].toFixed(2), '#007a3a'],
      ['Cumulative Delta Bars - Volume', '#fff'],
      ['Open: ' + lastDelta[0], '#008000'], ['High: ' + lastDelta[1], '#008000'],
      ['Low: ' + lastDelta[2], '#800000'], ['Close: ' + lastDelta[3], '#800000']
    ], 6, 20, HEAD_FONT, 18);
    ctx.restore();
  }
};
new Chart(document.getElementById('deltaChart'), {
  type: 'bar',
  data: { datasets: [
    hLine(0, '#000', 2, 100, { borderDash: [3, 3] }),
    lineSet(idxPts(deltaHighest), '#1d8a45', 2, 90),
    lineSet(idxPts(deltaLowest), '#1d8a45', 2, 90),
    wickSet(deltaOHLC, 2, '#008000', '#800000', 70),
    bodySet(deltaOHLC, deltaOHLC.map((b, i) => i), 15, b => isUp(b) ? '#008000' : '#800000', b => isUp(b) ? '#008000' : '#800000', 0, 60),
    lineSet(idxPts(deltaMA), '#1e8fff', 3, 50)
  ] },
  options: Object.assign(base({ paneFrame: { bottomLine: true } }), {
    scales: { x: hiddenX, y: yAxis(-1607, 1308, deltaTicks, v => v.toFixed(2)) }
  }),
  plugins: [paneFrame, deltaDecor]
});

// ---------- depth pane
const lastDepth = depthOHLC[depthOHLC.length - 1];
const depthDecor = {
  id: 'depthDecor',
  afterDraw(chart) {
    const ctx = chart.ctx;
    ctx.save();
    textRuns(ctx, [
      ['Bid & Ask Depth Bars', '#fff'],
      ['Open: ' + lastDepth[0].toFixed(3), '#008000'], ['High: ' + lastDepth[1].toFixed(3), '#008000'],
      ['Low: ' + lastDepth[2].toFixed(3), '#800000'], ['Close: ' + lastDepth[3].toFixed(3), '#800000'],
      ['Moving Average - Simple', '#fff'],
      ['Avg: ' + depthMA[depthMA.length - 1][1].toFixed(2), '#1a88d0']
    ], 6, 22, HEAD_FONT, 18);
    ctx.restore();
  }
};
new Chart(document.getElementById('depthChart'), {
  type: 'bar',
  data: { datasets: [
    wickSet(depthOHLC, 2, '#008000', '#800000', 70),
    bodySet(depthOHLC, depthOHLC.map((b, i) => i), 15, b => isUp(b) ? '#008000' : '#800000', b => isUp(b) ? '#008000' : '#800000', 0, 60),
    lineSet(pts(depthMA), '#1a8ad4', 1.5, 50)
  ] },
  options: Object.assign(base({ paneFrame: { bottomLine: true } }), {
    scales: { x: hiddenX, y: yAxis(2452740.4, 2453818.3, depthTicks, v => v.toFixed(3)) }
  }),
  plugins: [paneFrame, depthDecor]
});

// ---------- bottom pane with time axis
const bottomDecor = {
  id: 'bottomDecor',
  afterDraw(chart) {
    const { ctx, scales: { y } } = chart;
    ctx.save();
    const lastMA = bottomMA[bottomMA.length - 1][1];
    axisBox(ctx, lastMA.toFixed(2), y.getPixelForValue(lastMA), '#1a88cc', '#e6f2ff');
    ctx.font = 'bold 32px ' + FONT; ctx.textBaseline = 'middle'; ctx.textAlign = 'center';
    ctx.fillStyle = '#000'; ctx.fillRect(10, 262, 172, 38);
    ctx.fillStyle = '#fff'; ctx.fillText(sessionDate, 96, 282);
    ctx.fillStyle = '#ff0000'; ctx.fillRect(4079, 284, 54, 37);
    ctx.fillStyle = '#fff'; ctx.fillText('24', 4106, 303);
    ctx.restore();
  }
};
new Chart(document.getElementById('bottomChart'), {
  type: 'bar',
  data: { datasets: [
    hLine(bottomBase, '#000', 3, 5),
    lineSet(pts(bottomMA), '#1a86d0', 3, 10),
    { type: 'bar', grouped: false, order: 20, barThickness: 24, borderWidth: 1.5, borderSkipped: false,
      data: idxPts(bottomVals), backgroundColor: 'rgba(0,0,0,0)', borderColor: '#111' }
  ] },
  options: Object.assign(base({ paneFrame: {} }), {
    scales: {
      x: { type: 'linear', min: X_MIN, max: X_MAX, position: 'bottom', offset: false,
        afterBuildTicks: s => { s.ticks = timeTickBars.map(v => ({ value: v })); },
        afterFit: s => { s.height = 63; s.paddingLeft = 0; s.paddingRight = 0; },
        ticks: { callback: (v, i) => timeTickLabels[i], color: '#000', font: { size: 32, weight: 'bold' },
          padding: 10, maxRotation: 0, autoSkip: false },
        grid: { drawOnChartArea: false, drawTicks: false }, border: { display: false } },
      y: yAxis(30, 1240, bottomTicks, v => v.toFixed(2))
    }
  }),
  plugins: [paneFrame, bottomDecor]
});
</script>
</body>
</html>
